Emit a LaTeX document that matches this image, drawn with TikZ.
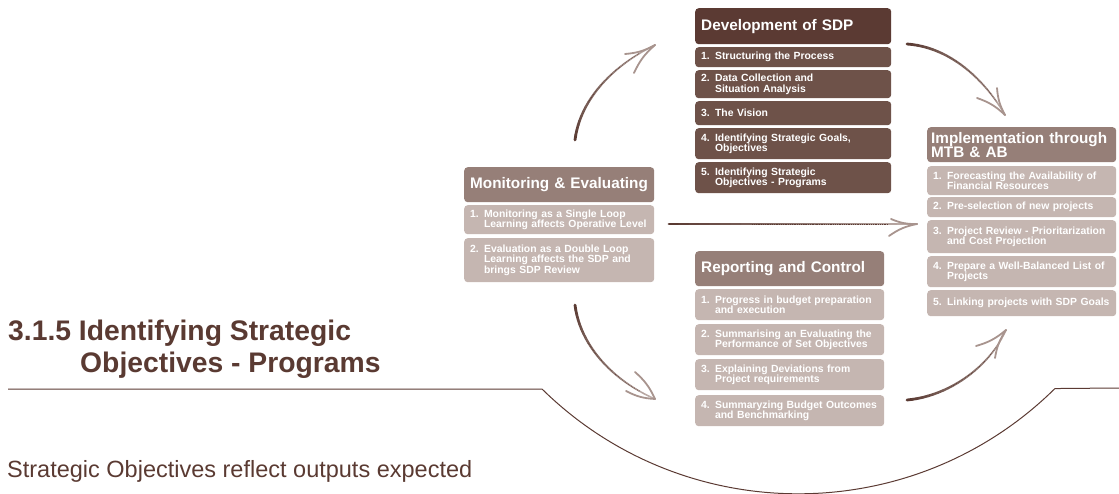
\documentclass[tikz,border=0pt]{standalone}
\usepackage{fontspec}
\setmainfont{Liberation Sans}
\definecolor{dkh}{HTML}{5B3A33}
\definecolor{dki}{HTML}{6E5249}
\definecolor{mdh}{HTML}{967F78}
\definecolor{lti}{HTML}{C5B6B1}
\definecolor{txt}{HTML}{5A3A32}
\definecolor{arrdark}{HTML}{5A3A32}
\definecolor{arrlight}{HTML}{D2C6C2}
\definecolor{arrhead}{HTML}{A8948E}
\newcommand{\brcurve}[6]{%
  \path (#1) .. controls (#2) and (#3) .. (#4)
    \foreach \k [evaluate=\k as \t using \k/24] in {0,...,24}{ coordinate[pos=\t] (q\k) };
  \foreach \k [evaluate=\k as \n using int(\k+1), evaluate=\k as \c using int(100-\k*3.6), evaluate=\k as \w using 2.8-\k*0.06] in {0,...,23}
    \draw[line cap=round, line width=\w pt, color=arrdark!\c!arrlight] (q\k) -- (q\n);
  \draw[arrdark, line width=0.7pt, dash pattern=on 0.7pt off 1.1pt] (q8) \foreach \k in {9,...,21}{ -- (q\k) };
  \draw[arrhead, line width=1.8pt, line cap=round] (#5) to[bend right=12] (#4);
  \draw[arrhead, line width=1.8pt, line cap=round] (#6) to[bend left=12] (#4);
}
\begin{document}
\begin{tikzpicture}[x=1pt,y=-1pt,
  box/.style={rectangle, rounded corners=3.5pt, anchor=north west, inner xsep=6pt, inner ysep=0pt, align=left, text=white},
  hdr/.style={box, font=\fontsize{15.3}{14}\selectfont\bfseries},
  itm/.style={box, font=\fontsize{10.4}{10.6}\selectfont\bfseries},
  heading/.style={anchor=base west, inner sep=0pt, text=txt, font=\fontsize{28.3}{32}\selectfont\bfseries},
  bodytext/.style={anchor=base west, inner sep=0pt, text=txt, font=\fontsize{23.5}{28}\selectfont},
  rule/.style={draw=dkh, line width=1pt},
]
\useasboundingbox (0,0) rectangle (1119,494);

% Development of SDP
\node[hdr, fill=dkh, minimum width=196pt, text width=184pt, minimum height=36pt] (dev) at (695,8) {Development of SDP};
\node[itm, fill=dki, minimum width=196pt, text width=184pt, minimum height=20pt] (dev1) at (695,47) {1. Structuring the Process};
\node[itm, fill=dki, minimum width=196pt, text width=184pt, minimum height=28pt] (dev2) at (695,70) {2. Data Collection and\\\hphantom{2. }Situation Analysis};
\node[itm, fill=dki, minimum width=196pt, text width=184pt, minimum height=24pt] (dev3) at (695,101) {3. The Vision};
\node[itm, fill=dki, minimum width=196pt, text width=184pt, minimum height=31pt] (dev4) at (695,128) {4. Identifying Strategic Goals,\\\hphantom{4. }Objectives};
\node[itm, fill=dki, minimum width=196pt, text width=184pt, minimum height=31pt] (dev5) at (695,162) {5. Identifying Strategic\\\hphantom{5. }Objectives - Programs};

% Monitoring & Evaluating
\node[hdr, fill=mdh, minimum width=190pt, text width=178pt, minimum height=35pt] (mon) at (464,167) {Monitoring \& Evaluating};
\node[itm, fill=lti, minimum width=190pt, text width=178pt, minimum height=29pt] (mon1) at (464,205) {1. Monitoring as a Single Loop\\\hphantom{1. }Learning affects Operative Level};
\node[itm, fill=lti, minimum width=190pt, text width=178pt, minimum height=44pt] (mon2) at (464,238) {2. Evaluation as a Double Loop\\\hphantom{2. }Learning affects the SDP and\\\hphantom{2. }brings SDP Review};

% Implementation
\node[hdr, fill=mdh, minimum width=189pt, text width=181pt, inner xsep=4pt, minimum height=35pt] (imp) at (927,127) {Implementation through\\MTB \& AB};
\node[itm, fill=lti, minimum width=189pt, text width=177pt, minimum height=29pt] (imp1) at (927,166) {1. Forecasting the Availability of\\\hphantom{1. }Financial Resources};
\node[itm, fill=lti, minimum width=189pt, text width=177pt, minimum height=20pt] (imp2) at (927,197) {2. Pre-selection of new projects};
\node[itm, fill=lti, minimum width=189pt, text width=177pt, minimum height=33pt] (imp3) at (927,220) {3. Project Review - Prioritarization\\\hphantom{3. }and Cost Projection};
\node[itm, fill=lti, minimum width=189pt, text width=177pt, minimum height=31pt] (imp4) at (927,256) {4. Prepare a Well-Balanced List of\\\hphantom{4. }Projects};
\node[itm, fill=lti, minimum width=189pt, text width=177pt, minimum height=26pt] (imp5) at (927,290) {5. Linking projects with SDP Goals};

% Reporting and Control
\node[hdr, fill=mdh, minimum width=189pt, text width=177pt, minimum height=35pt] (rep) at (695,251) {Reporting and Control};
\node[itm, fill=lti, minimum width=189pt, text width=177pt, minimum height=31pt] (rep1) at (695,289) {1. Progress in budget preparation\\\hphantom{1. }and execution};
\node[itm, fill=lti, minimum width=189pt, text width=177pt, minimum height=31pt] (rep2) at (695,324) {2. Summarising an Evaluating the\\\hphantom{2. }Performance of Set Objectives};
\node[itm, fill=lti, minimum width=189pt, text width=177pt, minimum height=31pt] (rep3) at (695,359) {3. Explaining Deviations from\\\hphantom{3. }Project requirements};
\node[itm, fill=lti, minimum width=189pt, text width=177pt, minimum height=31pt] (rep4) at (695,395) {4. Summaryzing Budget Outcomes\\\hphantom{4. }and Benchmarking};

% Heading and body text
\node[heading] (h1) at (8,340) {3.1.5 Identifying Strategic};
\node[heading] (h2) at (80,372) {Objectives - Programs};
\node[bodytext] (body) at (7,477) {Strategic Objectives reflect outputs expected};

% Rule and arc
\coordinate (hl0) at (8,389);
\coordinate (hl1) at (542,389);
\coordinate (hr1) at (1119,388);
\draw[rule] (hl0) -- (hl1) arc[start angle=225.5, end angle=314.6, radius=365.6pt] -- (hr1);

% Arrow: top left
\coordinate (a1s) at (575,140);
\coordinate (a1c1) at (580,100);
\coordinate (a1c2) at (612,66);
\coordinate (a1e) at (655,45);
\coordinate (a1b1) at (625,54);
\coordinate (a1b2) at (634,73);
\brcurve{a1s}{a1c1}{a1c2}{a1e}{a1b1}{a1b2}

% Arrow: top right
\coordinate (a2s) at (907,44);
\coordinate (a2c1) at (950,47);
\coordinate (a2c2) at (985,80);
\coordinate (a2e) at (1005,115);
\coordinate (a2b1) at (997,88);
\coordinate (a2b2) at (977,98);
\brcurve{a2s}{a2c1}{a2c2}{a2e}{a2b1}{a2b2}

% Arrow: bottom left
\coordinate (a3s) at (575,305);
\coordinate (a3c1) at (580,345);
\coordinate (a3c2) at (612,380);
\coordinate (a3e) at (655,399);
\coordinate (a3b1) at (626,391);
\coordinate (a3b2) at (635,372);
\brcurve{a3s}{a3c1}{a3c2}{a3e}{a3b1}{a3b2}

% Arrow: bottom right
\coordinate (a4s) at (907,400);
\coordinate (a4c1) at (950,396);
\coordinate (a4c2) at (990,366);
\coordinate (a4e) at (1006,330);
\coordinate (a4b1) at (976,346);
\coordinate (a4b2) at (995,358);
\brcurve{a4s}{a4c1}{a4c2}{a4e}{a4b1}{a4b2}

% Arrow: horizontal
\coordinate (a5s) at (669,224);
\coordinate (a5c1) at (750,224);
\coordinate (a5c2) at (840,224);
\coordinate (a5e) at (917,224);
\coordinate (a5b1) at (891,219);
\coordinate (a5b2) at (889,236);
\brcurve{a5s}{a5c1}{a5c2}{a5e}{a5b1}{a5b2}
\end{tikzpicture}
\end{document}
